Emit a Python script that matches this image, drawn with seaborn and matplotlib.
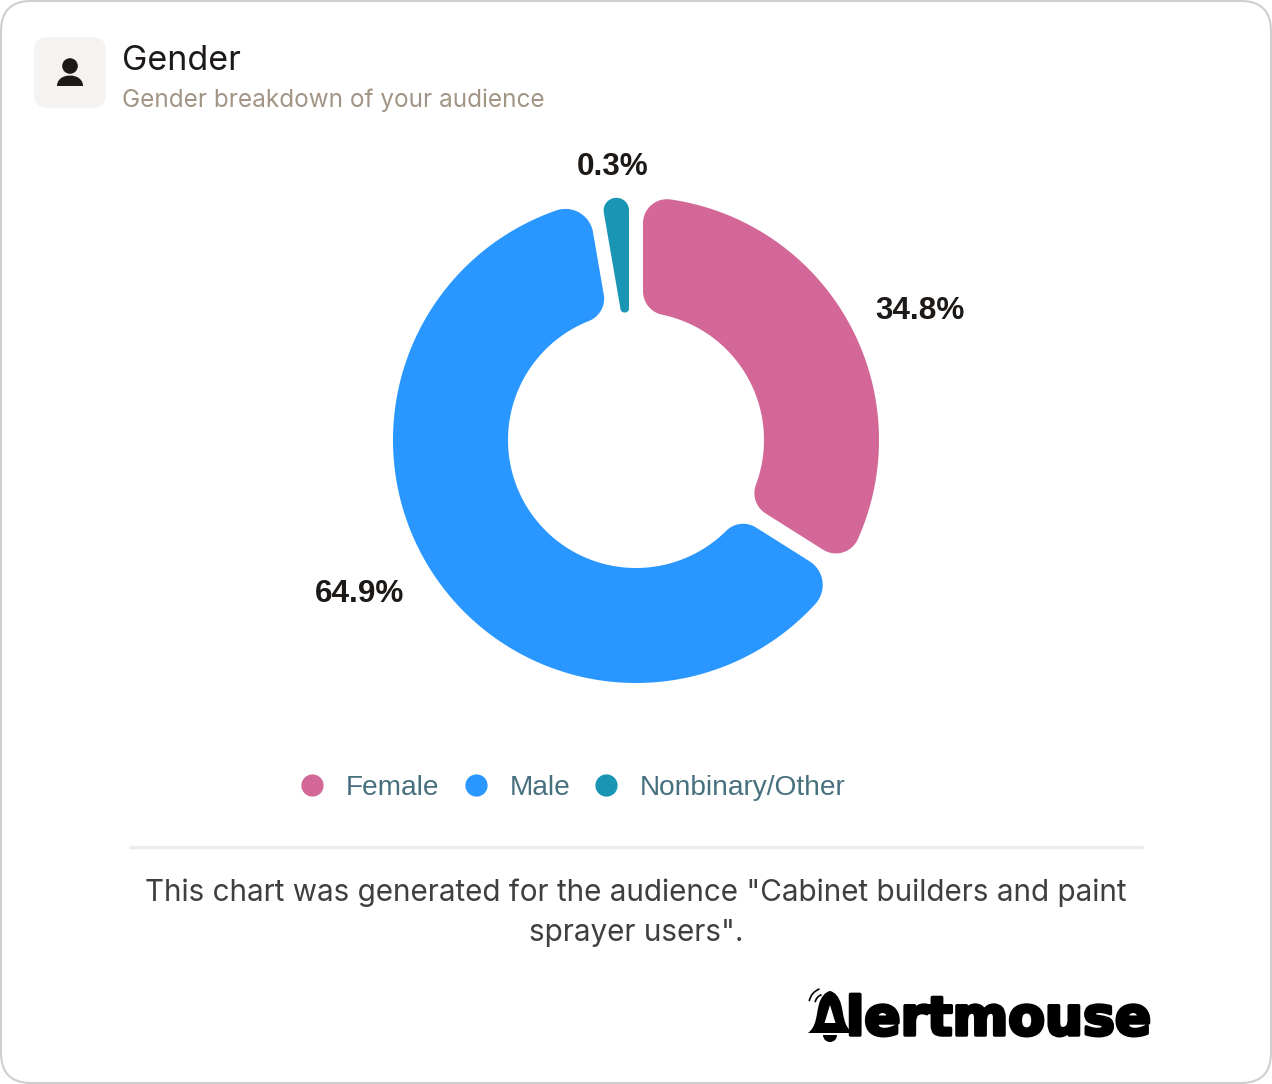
import numpy as np
import seaborn as sns
import matplotlib
matplotlib.use("Agg")
import matplotlib.pyplot as plt
import matplotlib.patheffects as pe
from matplotlib.lines import Line2D
from matplotlib.path import Path
from matplotlib.patches import FancyBboxPatch, PathPatch, Polygon, Circle, Wedge, Arc

categories = ["Female", "Male", "Nonbinary/Other"]
shares = [34.8, 64.9, 0.3]
share_labels = ["34.8%", "64.9%", "0.3%"]
colors = ["#d26798", "#2997ff", "#1a96b4"]

title = "Gender"
subtitle = "Gender breakdown of your audience"
note = 'This chart was generated for the audience "Cabinet builders and paint\nsprayer users".'

# the smallest slice gets a minimum angle, the rest share what is left
min_angle = 9.8
big = sum(v for v in shares if v >= 1)
shown = [v / big * (360 - min_angle) if v >= 1 else min_angle for v in shares]


def arc(cx, cy, rad, a1, a2, n=40):
    a = np.radians(np.linspace(a1, a2, n))
    return np.column_stack([cx + rad * np.cos(a), cy + rad * np.sin(a)])


def rounded_sector(center, t1, t2, r_in, r_out, gap1, gap2, c_out, c_in):
    # annular sector with rounded corners and a constant pixel gap on its sides
    x0, y0 = center
    a_out = t1 + np.degrees(np.arcsin((gap1 + c_out) / (r_out - c_out)))
    b_out = t2 - np.degrees(np.arcsin((gap2 + c_out) / (r_out - c_out)))
    a_in = t1 + np.degrees(np.arcsin((gap1 + c_in) / (r_in + c_in)))
    b_in = t2 - np.degrees(np.arcsin((gap2 + c_in) / (r_in + c_in)))

    def corner(rad, ang):
        p = np.radians(ang)
        return x0 + rad * np.cos(p), y0 + rad * np.sin(p)

    pts = [
        arc(*corner(r_out - c_out, a_out), c_out, t1 - 90, a_out),
        arc(x0, y0, r_out, a_out, b_out, 200),
        arc(*corner(r_out - c_out, b_out), c_out, b_out, t2 + 90),
        arc(*corner(r_in + c_in, b_in), c_in, t2 + 90, b_in + 180),
        arc(x0, y0, r_in, b_in, a_in, 120),
        arc(*corner(r_in + c_in, a_in), c_in, a_in + 180, t1 + 270),
    ]
    return np.vstack(pts)


sns.set_theme(style="white")
sns.set_palette(colors)
plt.rcParams["font.family"] = ["Inter", "DejaVu Sans"]

fig = plt.figure(figsize=(12.72, 10.84), dpi=100)
ax = fig.add_axes([0, 0, 1, 1])

# card
ax.add_patch(FancyBboxPatch((1, 1), 1270, 1082, boxstyle="round,pad=0,rounding_size=30",
                            fc="white", ec="#cfcfcf", lw=1.5))

# y axis goes down, so counterclock=True runs clockwise on screen
wedges, _ = ax.pie(shown, colors=colors, startangle=-90, counterclock=True,
                   center=(636, 440), radius=243, frame=True,
                   wedgeprops={"width": 115})
ax.set_xlim(0, 1272)
ax.set_ylim(1084, 0)
ax.axis("off")

slice_shape = [(7, 7, 24, 24), (10, 7, 28, 24), (7, 7, 12.5, 4)]
for w, col, (g1, g2, c_out, c_in) in zip(wedges, colors, slice_shape):
    outline = rounded_sector(w.center, w.theta1, w.theta2, w.r - w.width, w.r, g1, g2, c_out, c_in)
    ax.add_patch(Polygon(outline, closed=True, fc=col, ec="none"))
    w.remove()

# slice labels
label_pos = [(920, 311), (360, 594), (613, 167)]
for txt, (x, y) in zip(share_labels, label_pos):
    ax.text(x, y, txt, ha="center", va="center", fontsize=22.7, fontweight="bold",
            family="Liberation Sans", color="#1c1917")

# header
ax.add_patch(FancyBboxPatch((34, 37), 72, 71, boxstyle="round,pad=0,rounding_size=14",
                            fc="#f4f3f1", ec="none"))
ax.add_patch(Circle((70, 66), 7.8, fc="#1c1917", ec="none"))
shoulders = Path([(57, 86), (57, 72), (83, 72), (83, 86), (57, 86)],
                 [Path.MOVETO, Path.CURVE4, Path.CURVE4, Path.CURVE4, Path.CLOSEPOLY])
ax.add_patch(PathPatch(shoulders, fc="#1c1917", ec="none"))
ax.text(122, 61, title, ha="left", va="center", fontsize=24.5, color="#1c1917")
ax.text(122, 100, subtitle, ha="left", va="center", fontsize=17.5, color="#a39585")

# legend
handles = [Line2D([], [], ls="none", marker="o", ms=16, mfc=c, mec="none", label=n)
           for c, n in zip(colors, categories)]
ax.legend(handles=handles, ncol=3, loc="center", bbox_to_anchor=(572, 788), bbox_transform=ax.transData,
          frameon=False, prop={"family": "Liberation Sans", "size": 20.16}, labelcolor="#47707e",
          handlelength=1, handletextpad=0.71, columnspacing=0.78, borderpad=0, borderaxespad=0)

# footer
ax.plot([129, 1143], [847, 847], color="#ebebeb", lw=2.4, solid_capstyle="butt")
ax.text(636, 913, note, ha="center", va="center", fontsize=21.35, color="#3f3f3f", linespacing=1.55)

# logo: bell standing in for the A
bell = Path([(808, 1033), (817, 1026), (816, 1015), (819, 1004), (821, 997), (825, 992), (830, 991),
             (835, 992), (839, 997), (841, 1004), (844, 1015), (843, 1026), (853, 1033), (808, 1033)],
            [Path.MOVETO] + [Path.CURVE4] * 12 + [Path.CLOSEPOLY])
ax.add_patch(PathPatch(bell, fc="black", ec="none"))
ax.add_patch(Polygon([(830, 1005), (824.5, 1023), (835.5, 1023)], fc="white", ec="none"))
ax.add_patch(Wedge((830, 1035), 7, 0, 180, fc="black", ec="none"))
ax.add_patch(Arc((825, 1004), 32, 32, theta1=190, theta2=250, color="black", lw=1.2))
ax.add_patch(Arc((825, 1004), 20, 20, theta1=190, theta2=250, color="black", lw=1.2))
ax.text(846, 1035, "lertmouse", ha="left", va="baseline", fontsize=38.5, fontweight="bold",
        family="DejaVu Sans", color="black",
        path_effects=[pe.withStroke(linewidth=2.5, foreground="black")])

fig.savefig("out.png", dpi=100)
